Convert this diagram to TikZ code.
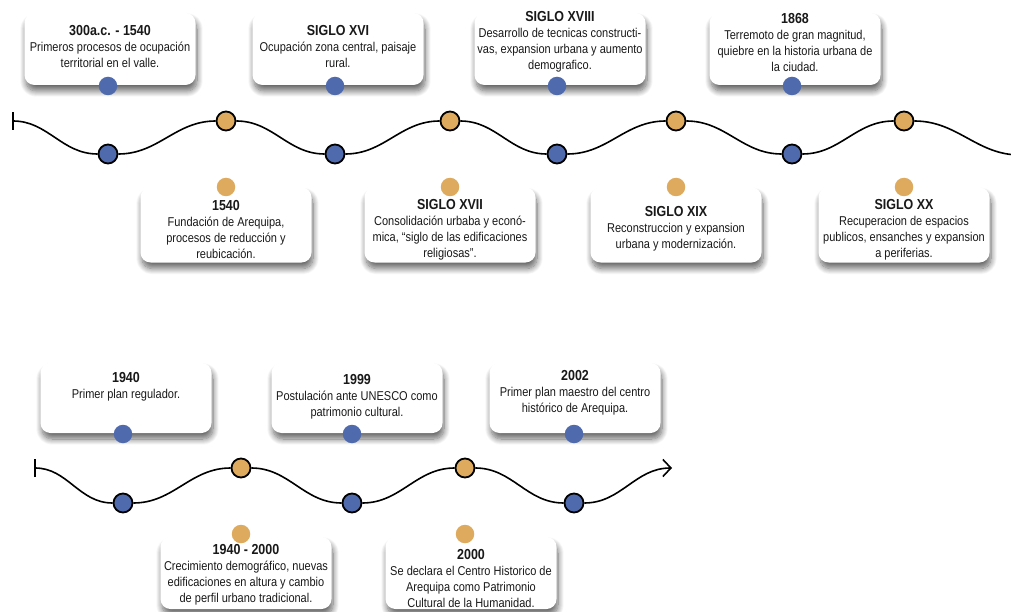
\documentclass[tikz,border=0pt]{standalone}
\usepackage{fontspec}
\setmainfont{Liberation Sans}[FakeStretch=0.86]
\usetikzlibrary{arrows.meta,shadows.blur}
\definecolor{dotblue}{RGB}{79,107,173}
\definecolor{dotorange}{RGB}{222,170,94}
\newcommand{\yr}[1]{{\fontsize{14.5}{16}\selectfont\bfseries #1}}

\begin{document}
\begin{tikzpicture}[x=1pt,y=-1pt,line width=1.6pt]
  \tikzstyle{stop}=[circle,draw=black,line width=1.8pt,minimum size=19pt,inner sep=0pt]
  \tikzstyle{low}=[stop,fill=dotblue]
  \tikzstyle{high}=[stop,fill=dotorange]
  \tikzstyle{dot}=[circle,minimum size=18.5pt,inner sep=0pt]
  \tikzstyle{card}=[rectangle,rounded corners=10pt,fill=white,minimum width=171pt,
                    blur shadow={shadow xshift=1.5pt,shadow yshift=-6pt,shadow blur radius=6pt,
                                 shadow blur steps=12,shadow opacity=60}]
  \tikzstyle{event}=[align=center,inner sep=0pt,text=black!90,font=\fontsize{12.8}{16}\selectfont]

  \clip (0,0) rectangle (1011,612);

  % cards above the first line
  \node[card,minimum height=72pt] (c1) at (110,49)  {};
  \node[card,minimum height=72pt] (c2) at (338,49)  {};
  \node[card,minimum height=72pt] (c3) at (560,49)  {};
  \node[card,minimum height=72pt] (c4) at (795,49)  {};
  % cards below the first line
  \node[card,minimum height=75pt] (c5) at (226,225) {};
  \node[card,minimum height=75pt] (c6) at (450,225) {};
  \node[card,minimum height=75pt] (c7) at (676,225) {};
  \node[card,minimum height=75pt] (c8) at (904,225) {};
  % cards of the second line
  \node[card,minimum height=70pt] (c9)  at (126,398) {};
  \node[card,minimum height=70pt] (c10) at (357,398) {};
  \node[card,minimum height=70pt] (c11) at (575,398) {};
  \node[card,minimum height=72pt] (c12) at (246,573) {};
  \node[card,minimum height=72pt] (c13) at (471,573) {};

  \node[event] (t1) at (110,47) {\yr{300a.c. - 1540}\\Primeros procesos de ocupación\\territorial en el valle.};
  \node[event] (t2) at (338,47) {\yr{SIGLO XVI}\\Ocupación zona central, paisaje\\rural.};
  \node[event] (t3) at (560,42) {\yr{SIGLO XVIII}\\Desarrollo de tecnicas constructi-\\vas, expansion urbana y aumento\\demografico.};
  \node[event] (t4) at (795,43) {\yr{1868}\\Terremoto de gran magnitud,\\quiebre en la historia urbana de\\la ciudad.};
  \node[event] (t5) at (226,230) {\yr{1540}\\Fundación de Arequipa,\\procesos de reducción y\\reubicación.};
  \node[event] (t6) at (450,230) {\yr{SIGLO XVII}\\Consolidación urbaba y econó-\\mica, “siglo de las edificaciones\\religiosas”.};
  \node[event] (t7) at (676,229) {\yr{SIGLO XIX}\\Reconstruccion y expansion\\urbana y modernización.};
  \node[event] (t8) at (904,230) {\yr{SIGLO XX}\\Recuperacion de espacios\\publicos, ensanches y expansion\\a periferias.};
  \node[event] (t9)  at (126,387) {\yr{1940}\\Primer plan regulador.};
  \node[event] (t10) at (357,397) {\yr{1999}\\Postulación ante UNESCO como\\patrimonio cultural.};
  \node[event] (t11) at (575,393) {\yr{2002}\\Primer plan maestro del centro\\histórico de Arequipa.};
  \node[event] (t12) at (246,575) {\yr{1940 - 2000}\\Crecimiento demográfico, nuevas\\edificaciones en altura y cambio\\de perfil urbano tradicional.};
  \node[event] (t13) at (471,578) {\yr{2000}\\Se declara el Centro Historico de\\Arequipa como Patrimonio\\Cultural de la Humanidad.};

  % markers on the cards
  \node[dot,fill=dotblue]   (m1)  at (108,86)  {};
  \node[dot,fill=dotblue]   (m2)  at (335,86)  {};
  \node[dot,fill=dotblue]   (m3)  at (557,86)  {};
  \node[dot,fill=dotblue]   (m4)  at (792,86)  {};
  \node[dot,fill=dotorange] (m5)  at (226,187) {};
  \node[dot,fill=dotorange] (m6)  at (450,187) {};
  \node[dot,fill=dotorange] (m7)  at (676,187) {};
  \node[dot,fill=dotorange] (m8)  at (904,187) {};
  \node[dot,fill=dotblue]   (m9)  at (123,434) {};
  \node[dot,fill=dotblue]   (m10) at (352,434) {};
  \node[dot,fill=dotblue]   (m11) at (574,434) {};
  \node[dot,fill=dotorange] (m12) at (241,534) {};
  \node[dot,fill=dotorange] (m13) at (465,534) {};

  % first time line
  \coordinate (s1) at (12,121);
  \coordinate (e1) at (1020,155);
  \node[low]  (l1) at (108,154) {};
  \node[high] (h1) at (226,121) {};
  \node[low]  (l2) at (335,154) {};
  \node[high] (h2) at (450,121) {};
  \node[low]  (l3) at (557,154) {};
  \node[high] (h3) at (676,121) {};
  \node[low]  (l4) at (792,154) {};
  \node[high] (h4) at (904,121) {};

  \draw[{Bar[width=18pt]}-] (s1) to[out=0,in=180] (l1);
  \draw (l1) to[out=0,in=180] (h1)
    to[out=0,in=180] (l2) to[out=0,in=180] (h2) to[out=0,in=180] (l3)
    to[out=0,in=180] (h3) to[out=0,in=180] (l4) to[out=0,in=180] (h4)
    to[out=0,in=180] (e1);

  % second time line
  \coordinate (s2) at (34,468);
  \coordinate (e2) at (672,468);
  \node[low]  (l5) at (123,503) {};
  \node[high] (h5) at (241,468) {};
  \node[low]  (l6) at (352,503) {};
  \node[high] (h6) at (465,468) {};
  \node[low]  (l7) at (574,503) {};

  \draw[{Bar[width=18pt]}-] (s2) to[out=0,in=180] (l5);
  \draw (l5) to[out=0,in=180] (h5) to[out=0,in=180] (l6)
    to[out=0,in=180] (h6) to[out=0,in=180] (l7);
  \draw[-{Straight Barb[length=8pt,width=17pt]}] (l7) to[out=0,in=180] (e2);
\end{tikzpicture}
\end{document}
